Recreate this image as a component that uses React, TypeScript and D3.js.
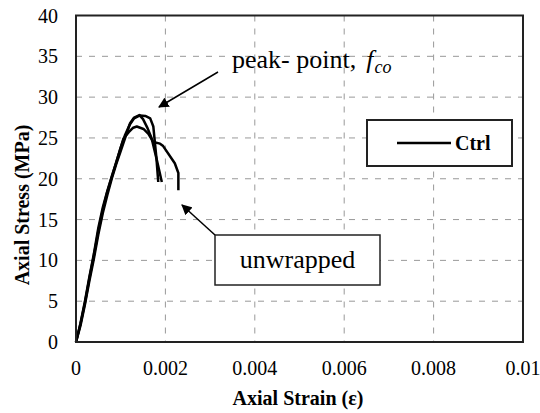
import React from "react";
import * as d3 from "d3";

const xTicks = [0, 0.002, 0.004, 0.006, 0.008, 0.01];
const xTickLabels = ["0", "0.002", "0.004", "0.006", "0.008", "0.01"];
const yTicks = [0, 5, 10, 15, 20, 25, 30, 35, 40];

const curveAStrain = [0, 0.0001, 0.0002, 0.0003, 0.0004, 0.0005, 0.0006, 0.0007, 0.0008, 0.0009, 0.001, 0.0011, 0.0012, 0.0013, 0.00143, 0.00155, 0.00166, 0.00173, 0.0018, 0.00184];
const curveAStress = [0, 2.3, 5, 8, 10.8, 14, 16.5, 18.5, 20.3, 22, 23.8, 25.4, 26.6, 27.4, 27.75, 27.7, 27.4, 26.4, 22.5, 19.6];

const curveBStrain = [0, 0.0001, 0.0002, 0.0003, 0.0004, 0.0005, 0.0006, 0.0007, 0.0008, 0.0009, 0.001, 0.0011, 0.00121, 0.0013, 0.00142, 0.0015, 0.0016, 0.00169, 0.0018, 0.00192];
const curveBStress = [0, 2.0, 4.6, 7.5, 10.2, 13.2, 15.8, 18, 20, 21.8, 23.4, 25, 26.8, 27.5, 27.8, 27.3, 26.2, 25, 22.5, 19.6];

const curveCStrain = [0, 0.0001, 0.0002, 0.0003, 0.0004, 0.0005, 0.0006, 0.0007, 0.0008, 0.0009, 0.001, 0.00106, 0.00118, 0.00128, 0.00136, 0.00151, 0.00162, 0.00173, 0.00188, 0.00195, 0.00221, 0.00229, 0.00229];
const curveCStress = [0, 2.2, 4.8, 7.8, 10.6, 13.6, 16.2, 18.4, 20.2, 22, 23.8, 24.9, 25.7, 26.25, 26.4, 26.1, 25.5, 24.5, 24.3, 24.0, 21.9, 20.7, 18.6];

const series = [
  { strain: curveAStrain, stress: curveAStress },
  { strain: curveBStrain, stress: curveBStress },
  { strain: curveCStrain, stress: curveCStress },
];

const W = 540;
const H = 413;
const L = 76, R = 523, T = 15.5, B = 342;
const ts: React.CSSProperties = { fontFamily: '"Liberation Serif"' };

export default function App() {
  const x = d3.scaleLinear().domain([0, 0.01]).range([L, R]);
  const y = d3.scaleLinear().domain([0, 40]).range([B, T]);
  const line = d3
    .line<[number, number]>()
    .x((d) => x(d[0]))
    .y((d) => y(d[1]));

  return (
    <svg width={W} height={H} style={{ position: "absolute", left: 0, top: 0, background: "#fff" }}>
      <defs>
        <marker id="ah" viewBox="0 0 10 10" refX="9" refY="5" markerWidth="7" markerHeight="7" orient="auto">
          <path d="M0,0 L10,5 L0,10 z" fill="#000" />
        </marker>
      </defs>
      <rect x={0} y={0} width={W} height={H} fill="#fff" />
      {/* grid */}
      {yTicks.slice(1, -1).map((t) => (
        <line key={"gy" + t} x1={L} x2={R} y1={y(t)} y2={y(t)} stroke="#999" strokeWidth={1} strokeDasharray="6,7" />
      ))}
      {xTicks.slice(1, -1).map((t) => (
        <line key={"gx" + t} x1={x(t)} x2={x(t)} y1={T} y2={B} stroke="#999" strokeWidth={1} strokeDasharray="6,7" />
      ))}
      {/* curves */}
      {series.map((s, i) => (
        <path
          key={i}
          d={line(s.strain.map((v, j) => [v, s.stress[j]] as [number, number])) || ""}
          fill="none"
          stroke="#000"
          strokeWidth={2.5}
          strokeLinejoin="round"
        />
      ))}
      {/* frame */}
      <rect x={L} y={T} width={R - L} height={B - T} fill="none" stroke="#222" strokeWidth={2} />
      {/* y tick labels */}
      {yTicks.map((t) => (
        <text key={"yl" + t} style={ts} x={58} y={y(t)} dy="0.35em" textAnchor="end" fontSize={20} fill="#000">
          {t}
        </text>
      ))}
      {/* x tick labels */}
      {xTicks.map((t, i) => (
        <text key={"xl" + t} style={ts} x={x(t)} y={375} textAnchor="middle" fontSize={20} fill="#000">
          {xTickLabels[i]}
        </text>
      ))}
      {/* axis titles */}
      <text style={ts} x={298} y={405} textAnchor="middle" fontSize={20} fontWeight="bold" fill="#000">
        Axial Strain (ε)
      </text>
      <text
        style={ts}
        transform="translate(29,205) rotate(-90)"
        textAnchor="middle"
        fontSize={20}
        fontWeight="bold"
        fill="#000"
      >
        Axial Stress (MPa)
      </text>
      {/* peak annotation */}
      <text style={ts} x={232} y={68} fontSize={26} fill="#000">
        peak- point,
        <tspan fontStyle="italic" dx={10}>f</tspan>
        <tspan fontStyle="italic" fontSize={18} dy={5} dx={1}>co</tspan>
      </text>
      <line x1={218} y1={72} x2={159} y2={107} stroke="#000" strokeWidth={1.5} markerEnd="url(#ah)" />
      {/* unwrapped annotation */}
      <rect x={215} y={235} width={165} height={50} fill="#fff" stroke="#222" strokeWidth={1.5} />
      <text style={ts} x={297.5} y={268} textAnchor="middle" fontSize={26} fill="#000">
        unwrapped
      </text>
      <line x1={215} y1={235} x2={182} y2={205} stroke="#000" strokeWidth={1.5} markerEnd="url(#ah)" />
      {/* legend */}
      <rect x={367} y={120} width={145} height={46} fill="#fff" stroke="#222" strokeWidth={2} />
      <line x1={397} x2={451} y1={143} y2={143} stroke="#000" strokeWidth={2.5} />
      <text style={ts} x={455} y={150} fontSize={20} fontWeight="bold" fill="#000">
        Ctrl
      </text>
    </svg>
  );
}
